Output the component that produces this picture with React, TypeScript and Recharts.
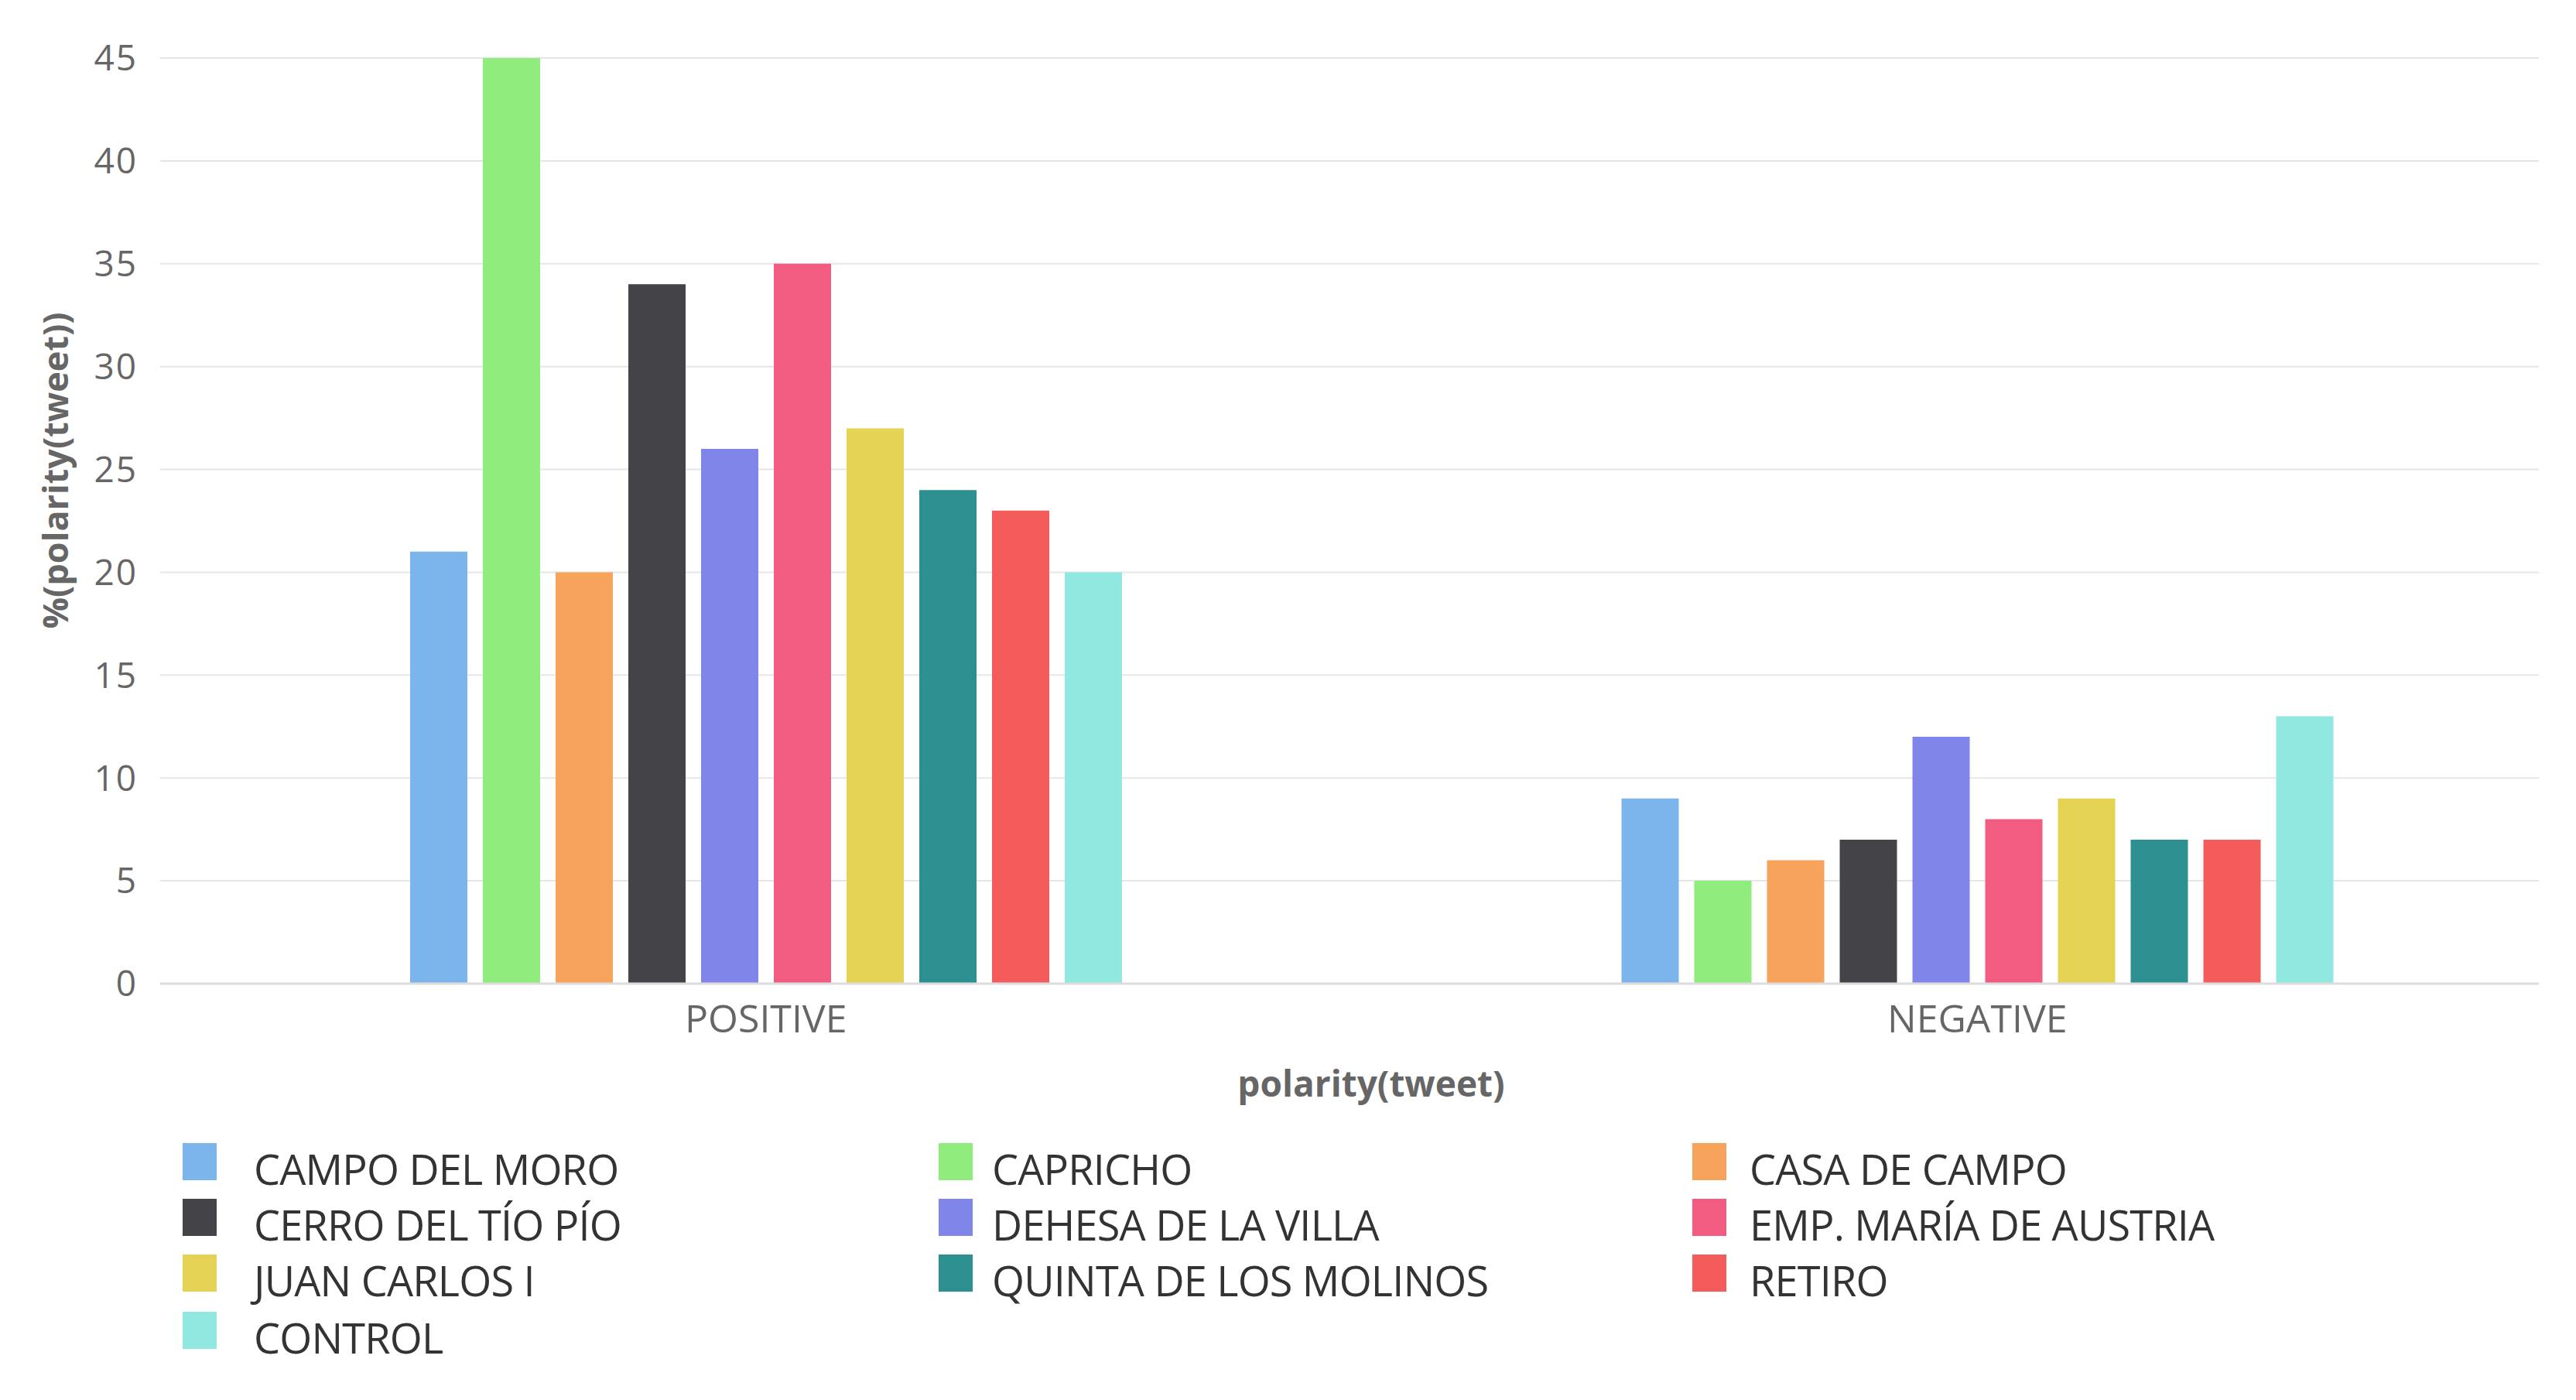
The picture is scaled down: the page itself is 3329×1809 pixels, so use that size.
import { BarChart, Bar, XAxis, YAxis, CartesianGrid } from 'recharts'

const categories = ['POSITIVE', 'NEGATIVE']

const parks = [
  'CAMPO DEL MORO',
  'CAPRICHO',
  'CASA DE CAMPO',
  'CERRO DEL TÍO PÍO',
  'DEHESA DE LA VILLA',
  'EMP. MARÍA DE AUSTRIA',
  'JUAN CARLOS I',
  'QUINTA DE LOS MOLINOS',
  'RETIRO',
  'CONTROL',
]

const positiveValues = [21, 45, 20, 34, 26, 35, 27, 24, 23, 20]
const negativeValues = [9, 5, 6, 7, 12, 8, 9, 7, 7, 13]

const yTicks = [0, 5, 10, 15, 20, 25, 30, 35, 40, 45]

const COLORS = [
  '#7cb5ec',
  '#90ed7d',
  '#f7a35c',
  '#434348',
  '#8085e9',
  '#f15c80',
  '#e4d354',
  '#2b908f',
  '#f45b5b',
  '#91e8e1',
]

const FONT = '"Open Sans", "Noto Sans", sans-serif'

// one row per polarity, one key per park
const data = categories.map((cat, ci) => {
  const row: Record<string, string | number> = { polarity: cat }
  const vals = ci === 0 ? positiveValues : negativeValues
  parks.forEach((p, i) => {
    row[`s${i}`] = vals[i]
  })
  return row
})

function YTitle() {
  return (
    <text
      x={70}
      y={608}
      transform="rotate(-90 70 608)"
      textAnchor="middle"
      dominantBaseline="central"
      fontFamily={FONT}
      fontSize={45}
      fontWeight={700}
      fill="#666666"
    >
      %(polarity(tweet))
    </text>
  )
}

function XTitle() {
  return (
    <text
      x={1772}
      y={1417}
      textAnchor="middle"
      fontFamily={FONT}
      fontSize={46}
      fontWeight={700}
      fill="#666666"
    >
      polarity(tweet)
    </text>
  )
}

const colSwatch = [236, 1213, 2187]
const colText = [328, 1282, 2261]
const rowTop = [1477, 1549, 1621, 1695]

function ParkLegend() {
  return (
    <>
      {parks.map((p, i) => {
        const col = i % 3
        const row = Math.floor(i / 3)
        return (
          <div key={p}>
            <div
              style={{
                position: 'absolute',
                left: colSwatch[col],
                top: rowTop[row],
                width: 44,
                height: 48,
                backgroundColor: COLORS[i],
              }}
            />
            <div
              style={{
                position: 'absolute',
                left: colText[col],
                top: rowTop[row] + 6,
                fontFamily: FONT,
                fontSize: 54,
                lineHeight: '54px',
                color: '#333333',
                whiteSpace: 'nowrap',
                letterSpacing: -0.8,
              }}
            >
              {p}
            </div>
          </div>
        )
      })}
    </>
  )
}

export default function App() {
  return (
    <div
      style={{
        position: 'fixed',
        left: 0,
        top: 0,
        width: 3329,
        height: 1809,
        overflow: 'hidden',
        background: '#ffffff',
      }}
    >
      <div
        style={{
          position: 'absolute',
          left: 0,
          top: 0,
          width: 3281,
          height: 1809,
          overflow: 'hidden',
        }}
      >
        <BarChart
          width={3338}
          height={1809}
          data={data}
          margin={{ top: 75, right: 0, bottom: 478, left: 0 }}
          barCategoryGap={323}
          barGap={20}
        >
          <CartesianGrid vertical={false} stroke="#e6e6e6" strokeWidth={2} />
          <XAxis
            dataKey="polarity"
            height={60}
            tickSize={0}
            tickMargin={27}
            axisLine={{ stroke: '#dcdcdc', strokeWidth: 3 }}
            tick={{ fontSize: 50, fill: '#666666', fontFamily: FONT }}
            label={<XTitle />}
          />
          <YAxis
            width={207}
            domain={[0, 45]}
            ticks={yTicks}
            tickSize={0}
            tickMargin={29}
            axisLine={false}
            tickLine={false}
            tick={{ fontSize: 46, fill: '#666666', fontFamily: FONT, letterSpacing: 2 }}
            label={<YTitle />}
          />
          {parks.map((p, i) => (
            <Bar
              key={p}
              dataKey={`s${i}`}
              name={p}
              fill={COLORS[i]}
              isAnimationActive={false}
            />
          ))}
        </BarChart>
      </div>
      <ParkLegend />
    </div>
  )
}
